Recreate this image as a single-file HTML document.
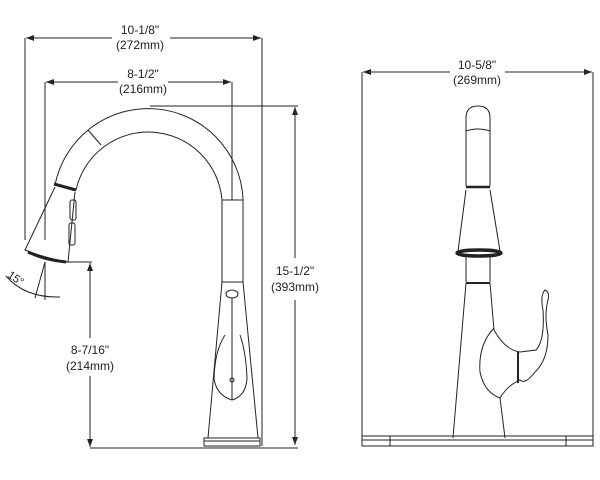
<!DOCTYPE html>
<html><head><style>
html,body{margin:0;padding:0;background:#fff;width:600px;height:480px;overflow:hidden}
svg{display:block}
text{font-family:"Liberation Sans",sans-serif;font-size:12px;fill:#222;text-anchor:middle}
</style></head><body>
<svg width="600" height="480" viewBox="0 0 600 480" xmlns="http://www.w3.org/2000/svg">
<defs>
<marker id="a" markerWidth="8" markerHeight="6" refX="8" refY="3" orient="auto-start-reverse" markerUnits="userSpaceOnUse"><path d="M0,0 L8,3 L0,6 Z" fill="#222"/></marker>
</defs>
<g stroke="#222" stroke-width="1" fill="none">
<line x1="25" y1="38" x2="25" y2="240"/>
<line x1="262" y1="38" x2="262" y2="446"/>
<line x1="26" y1="38" x2="112" y2="38" marker-start="url(#a)"/>
<line x1="170" y1="38" x2="261" y2="38" marker-end="url(#a)"/>
<line x1="45" y1="82" x2="45" y2="240"/>
<line x1="232" y1="82" x2="232" y2="200"/>
<line x1="46" y1="82" x2="118" y2="82" marker-start="url(#a)"/>
<line x1="168" y1="82" x2="231" y2="82" marker-end="url(#a)"/>
<line x1="150" y1="106" x2="298" y2="106"/>
<line x1="295" y1="107" x2="295" y2="258" marker-start="url(#a)"/>
<line x1="295" y1="300" x2="295" y2="445" marker-end="url(#a)"/>
<line x1="90" y1="448" x2="298" y2="448"/>
<line x1="65" y1="262" x2="92" y2="262"/>
<line x1="90" y1="263" x2="90" y2="338" marker-start="url(#a)"/>
<line x1="90" y1="376" x2="90" y2="447" marker-end="url(#a)"/>
<line x1="45" y1="262" x2="45" y2="300"/>
<line x1="45" y1="262" x2="35" y2="298"/>
<path d="M6,276 Q25,298 60,297" />
<path d="M55,185 A95,95 0 0 1 243,198 L243,282"/>
<path d="M76,190 A74,74 0 0 1 222,200 L222,282"/>
<line x1="222" y1="200" x2="243" y2="200"/>
<line x1="88" y1="130" x2="101" y2="145"/>
<line x1="54" y1="184" x2="76" y2="190" stroke-width="3"/>
<path d="M55,187 L25,250 Q45,258 68,262 L75,192"/>
<path d="M28,252 Q45,260 66,262" stroke-width="3"/>
<rect x="70" y="200" width="6" height="20" rx="2"/>
<rect x="69" y="223" width="6" height="22" rx="2"/>
<line x1="222" y1="282" x2="243" y2="282"/>
<path d="M222,282 L208,438 M243,282 L258,438"/>
<rect x="204" y="438" width="56" height="8"/>
<line x1="204" y1="441" x2="260" y2="441"/>
<ellipse cx="232" cy="294" rx="6" ry="4"/>
<line x1="232" y1="298" x2="232" y2="400"/>
<path d="M225,335 Q215,350 214,378 Q216,395 232,400 Q246,396 247,378 Q246,352 240,335"/>
<circle cx="232" cy="380" r="2"/>
<line x1="362" y1="72" x2="362" y2="446"/>
<line x1="593" y1="72" x2="593" y2="446"/>
<line x1="363" y1="72" x2="450" y2="72" marker-start="url(#a)"/>
<line x1="505" y1="72" x2="592" y2="72" marker-end="url(#a)"/>
<rect x="362" y="436" width="231" height="10"/>
<line x1="362" y1="440" x2="593" y2="440"/>
<line x1="390" y1="436" x2="390" y2="446"/>
<line x1="566" y1="436" x2="566" y2="446"/>
<path d="M466,186 L466,118 Q466,106 478,106 Q490,106 490,118 L490,186"/>
<path d="M466,131 Q478,127 490,131"/>
<line x1="466" y1="187" x2="490" y2="187" stroke-width="2.5"/>
<path d="M466,190 L458,251 M490,190 L500,251"/>
<ellipse cx="479" cy="253" rx="22" ry="3" stroke-width="3.5"/>
<path d="M466,257 L466,282 M490,257 L490,282"/>
<line x1="466" y1="283" x2="490" y2="283" stroke-width="2"/>
<path d="M466,283 L453,438 M490,283 L494,330"/>
<path d="M494,328 Q478,345 480,372 Q484,392 500,398 L505,438"/>
<path d="M494,330 Q505,350 520,352 L536,350 Q545,340 543,310 Q540,295 545,290 Q550,292 548,300 Q544,315 548,335 Q548,360 535,372 Q525,385 520,380 Q508,385 500,398"/>
<line x1="518" y1="352" x2="518" y2="383" stroke-width="2"/>
</g>
<text x="140" y="34">10-1/8"</text>
<text x="140" y="49">(272mm)</text>
<text x="143" y="78">8-1/2"</text>
<text x="143" y="93">(216mm)</text>
<text x="295" y="275">15-1/2"</text>
<text x="295" y="291">(393mm)</text>
<text x="90" y="354">8-7/16"</text>
<text x="90" y="370">(214mm)</text>
<text x="477" y="69">10-5/8"</text>
<text x="477" y="84">(269mm)</text>
<text x="16" y="282" transform="rotate(35 16 278)" style="font-size:11px">15°</text>
</svg>
</body></html>
